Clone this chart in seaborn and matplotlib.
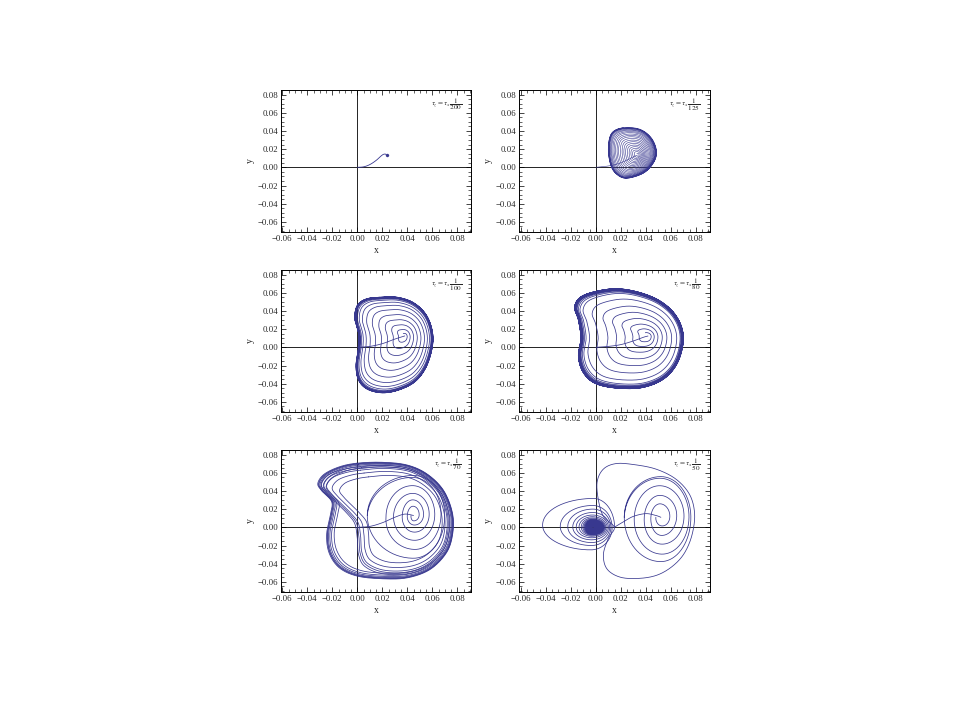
import numpy as np
import pandas as pd
import matplotlib
matplotlib.use("Agg")
import matplotlib.pyplot as plt
from matplotlib.ticker import MultipleLocator, FuncFormatter
import seaborn as sns

# ---------------- data ----------------
ratio_labels = ["200", "125", "100", "80", "70", "50"]

# panel 1 : tau_z = tau_x / 200
p1_path = [(0.0, 0.0), (0.005, 0.0005), (0.010, 0.003), (0.015, 0.0075),
           (0.020, 0.0135), (0.0225, 0.0145), (0.0235, 0.013)]
p1_end = [(0.0235, 0.013)]

# panel 2 : 1/125
p2_focus = (0.0334, 0.0135)
p2_shape = [(0.0219, 0.0435), (0.0353, 0.0418), (0.0446, 0.0319), (0.0486, 0.0171),
            (0.0459, 0.0044), (0.0379, -0.0066), (0.0246, -0.0121), (0.0166, -0.0077),
            (0.0118, 0.0025), (0.0099, 0.0209), (0.0126, 0.0374)]
p2_scales = [0.06, 0.12, 0.18, 0.24, 0.30, 0.36, 0.42, 0.48, 0.54, 0.60,
             0.66, 0.71, 0.76, 0.81, 0.85, 0.89, 0.92, 0.95, 0.97, 0.985, 1.0]
p2_path = [(0.0, 0.0), (0.010, 0.0015), (0.018, 0.004), (0.025, 0.008),
           (0.030, 0.0115), (0.0334, 0.0135)]

# panel 3 : 1/100
p3_focus = (0.038, 0.0125)
p3_shape = [(0.018, 0.055), (0.032, 0.055), (0.045, 0.049), (0.055, 0.036), (0.060, 0.018),
            (0.060, 0.000), (0.055, -0.022), (0.046, -0.038), (0.033, -0.047), (0.020, -0.050),
            (0.008, -0.046), (0.001, -0.036), (-0.001, -0.020), (0.001, 0.000), (0.001, 0.015),
            (-0.002, 0.032), (0.000, 0.046), (0.007, 0.053)]
p3_scales = [0.06, 0.16, 0.28, 0.41, 0.54, 0.67, 0.78, 0.86, 0.92, 0.95, 0.97, 0.98,
             0.99, 0.995, 1.0, 1.0]
p3_path = [(0.0, 0.0), (0.010, 0.001), (0.020, 0.004), (0.030, 0.009), (0.038, 0.0125)]

# panel 4 : 1/80
p4_focus = (0.0417, 0.0124)
p4_shape = [(0.011, 0.064), (0.030, 0.062), (0.050, 0.052), (0.064, 0.035), (0.070, 0.012),
            (0.066, -0.015), (0.055, -0.034), (0.038, -0.044), (0.018, -0.045), (0.000, -0.040),
            (-0.010, -0.028), (-0.014, -0.010), (-0.012, 0.010), (-0.014, 0.030),
            (-0.017, 0.045), (-0.010, 0.057)]
p4_scales = [0.07, 0.15, 0.25, 0.37, 0.50, 0.63, 0.78, 0.90, 0.93, 0.95, 0.965, 0.975,
             0.985, 0.99, 0.995, 1.0, 1.0, 1.0]
p4_path = [(0.0, 0.0), (0.010, 0.001), (0.020, 0.003), (0.030, 0.007), (0.038, 0.011),
           (0.0417, 0.0124)]

# panel 5 : 1/70
p5_focus = (0.045, 0.013)
p5_ovals = [(0.043, 0.048, 0.008, 0.019), (0.040, 0.051, 0.0044, 0.0245),
            (0.036, 0.055, -0.003, 0.032), (0.029, 0.060, -0.012, 0.039),
            (0.023, 0.064, -0.021, 0.048), (0.008, 0.070, -0.034, 0.057)]
p5_outer = [(0.000, 0.070), (0.020, 0.071), (0.040, 0.068), (0.056, 0.058), (0.069, 0.040),
            (0.076, 0.015), (0.076, -0.008), (0.071, -0.028), (0.058, -0.046), (0.040, -0.055),
            (0.020, -0.056), (0.000, -0.053), (-0.014, -0.044), (-0.022, -0.028),
            (-0.024, -0.008), (-0.021, 0.014), (-0.020, 0.028), (-0.028, 0.040),
            (-0.031, 0.048), (-0.026, 0.058), (-0.014, 0.066)]
p5_inner = [(0.000, 0.066), (0.020, 0.068), (0.040, 0.065), (0.055, 0.055), (0.067, 0.038),
            (0.073, 0.015), (0.073, -0.008), (0.068, -0.027), (0.056, -0.043), (0.040, -0.051),
            (0.020, -0.051), (0.006, -0.043), (0.001, -0.030), (0.000, -0.012),
            (-0.002, 0.004), (-0.008, 0.015), (-0.016, 0.026), (-0.024, 0.037),
            (-0.029, 0.047), (-0.024, 0.057), (-0.013, 0.063)]
p5_outer_scales = [0.92, 0.95, 0.97, 0.985, 0.995, 1.0, 1.008]
p5_inner_scales = [0.80, 0.88, 0.94, 0.97, 1.0]
p5_path = [(0.0, 0.0), (0.010, 0.001), (0.020, 0.005), (0.030, 0.011), (0.038, 0.0145),
           (0.045, 0.013)]

# panel 6 : 1/50
p6_left_center = (-0.003, 0.0)
p6_left_ovals = [(-0.053, 0.015, -0.030, 0.034), (-0.032, 0.013, -0.023, 0.025),
                 (-0.025, 0.012, -0.019, 0.021), (-0.020, 0.011, -0.016, 0.017),
                 (-0.017, 0.010, -0.013, 0.014), (-0.0145, 0.009, -0.011, 0.012),
                 (-0.0125, 0.008, -0.0095, 0.0105), (-0.0110, 0.0072, -0.0085, 0.0093),
                 (-0.0100, 0.0065, -0.0077, 0.0084), (-0.0092, 0.0059, -0.0070, 0.0076),
                 (-0.0085, 0.0053, -0.0064, 0.0069), (-0.0079, 0.0048, -0.0058, 0.0063),
                 (-0.0073, 0.0043, -0.0053, 0.0057), (-0.0068, 0.0038, -0.0048, 0.0052),
                 (-0.0063, 0.0034, -0.0043, 0.0047), (-0.0058, 0.0030, -0.0039, 0.0042),
                 (-0.0054, 0.0026, -0.0035, 0.0038), (-0.0050, 0.0022, -0.0031, 0.0034),
                 (-0.0046, 0.0018, -0.0027, 0.0030), (-0.0043, 0.0015, -0.0024, 0.0026),
                 (-0.0040, 0.0011, -0.0020, 0.0022), (-0.0037, 0.0008, -0.0016, 0.0018),
                 (-0.0035, 0.0005, -0.0012, 0.0014), (-0.0033, -0.0005, -0.0008, 0.0009)]
p6_right_focus = (0.052, 0.011)
p6_right_ovals = [(0.048, 0.057, 0.0044, 0.019), (0.044, 0.0613, -0.0066, 0.028),
                  (0.0387, 0.068, -0.0157, 0.0374), (0.0307, 0.073, -0.0267, 0.0484),
                  (0.0227, 0.076, -0.0377, 0.0557)]
p6_big = [(0.0147, 0.000), (0.006, 0.012), (0.002, 0.030), (0.001, 0.050), (0.006, 0.064),
          (0.016, 0.070), (0.030, 0.069), (0.048, 0.064), (0.064, 0.053), (0.075, 0.036),
          (0.079, 0.015), (0.077, -0.008), (0.071, -0.028), (0.062, -0.042), (0.050, -0.052),
          (0.036, -0.056), (0.020, -0.055), (0.009, -0.046), (0.006, -0.030), (0.010, -0.012)]
p6_path = [(0.0147, 0.0), (0.022, 0.006), (0.030, 0.012), (0.040, 0.015), (0.048, 0.013),
           (0.052, 0.011)]

# line widths per panel (style)
panel_lw = [0.6, 0.4, 0.55, 0.55, 0.55, 0.55]

# ---------------- curve helpers ----------------
def closed_spline(pts, n_per=24):
    P = np.asarray(pts, float)
    n = len(P)
    t = np.linspace(0, 1, n_per, endpoint=False)[:, None]
    out = []
    for i in range(n):
        p0, p1, p2, p3 = P[(i - 1) % n], P[i], P[(i + 1) % n], P[(i + 2) % n]
        out.append(0.5 * (2 * p1 + (-p0 + p2) * t + (2 * p0 - 5 * p1 + 4 * p2 - p3) * t ** 2
                          + (-p0 + 3 * p1 - 3 * p2 + p3) * t ** 3))
    return np.vstack(out)


def open_spline(pts, n_per=20):
    P = np.asarray(pts, float)
    P = np.vstack([P[0], P, P[-1]])
    t = np.linspace(0, 1, n_per, endpoint=False)[:, None]
    out = []
    for i in range(1, len(P) - 2):
        p0, p1, p2, p3 = P[i - 1], P[i], P[i + 1], P[i + 2]
        out.append(0.5 * (2 * p1 + (-p0 + p2) * t + (2 * p0 - 5 * p1 + 4 * p2 - p3) * t ** 2
                          + (-p0 + 3 * p1 - 3 * p2 + p3) * t ** 3))
    out.append(P[-1][None, :])
    return np.vstack(out)


def scaled_spiral(shape, focus, scales):
    C = closed_spline(shape)
    F = np.asarray(focus)
    M = len(C)
    t = np.arange(M) / M
    segs = []
    for k in range(len(scales) - 1):
        s = scales[k] + (scales[k + 1] - scales[k]) * t
        segs.append(F + s[:, None] * (C - F))
    segs.append(F + scales[-1] * (C - F))
    segs.append((F + scales[-1] * (C[0] - F))[None, :])
    return np.vstack(segs)


def scaled_loop(shape, focus, s):
    C = closed_spline(shape)
    F = np.asarray(focus)
    L = F + s * (C - F)
    return np.vstack([L, L[:1]])


def oval_spiral(ovals, center, theta0=0.0, n=220):
    cx, cy = center
    E = np.asarray(ovals, float)
    t = np.arange(n) / n
    segs = []
    for k in range(len(E) - 1):
        e = E[k][None, :] + (E[k + 1] - E[k])[None, :] * t[:, None]
        th = theta0 + 2 * np.pi * t
        segs.append((e, th))
    e = np.repeat(E[-1][None, :], n + 1, axis=0)
    th = theta0 + 2 * np.pi * np.arange(n + 1) / n
    segs.append((e, th))
    pts = []
    for e, th in segs:
        c, s = np.cos(th), np.sin(th)
        rx = np.where(c >= 0, e[:, 1] - cx, cx - e[:, 0])
        ry = np.where(s >= 0, e[:, 3] - cy, cy - e[:, 2])
        pts.append(np.column_stack([cx + rx * c, cy + ry * s]))
    return np.vstack(pts)


def to_df(curves):
    frames = []
    for i, c in enumerate(curves):
        frames.append(pd.DataFrame({"x": c[:, 0], "y": c[:, 1], "seg": i,
                                    "order": np.arange(len(c))}))
    return pd.concat(frames, ignore_index=True)


# ---------------- build curves per panel ----------------
panels = []
panels.append([open_spline(p1_path)])
panels.append([open_spline(p2_path), scaled_spiral(p2_shape, p2_focus, p2_scales)])
panels.append([open_spline(p3_path), scaled_spiral(p3_shape, p3_focus, p3_scales)])
panels.append([open_spline(p4_path), scaled_spiral(p4_shape, p4_focus, p4_scales)])
c5 = [open_spline(p5_path), oval_spiral(p5_ovals, p5_focus, theta0=np.pi)]
c5 += [scaled_loop(p5_outer, p5_focus, s) for s in p5_outer_scales]
c5 += [scaled_loop(p5_inner, p5_focus, s) for s in p5_inner_scales]
panels.append(c5)
c6 = [oval_spiral(p6_left_ovals, p6_left_center, theta0=0.0),
      open_spline(p6_path),
      oval_spiral(p6_right_ovals, p6_right_focus, theta0=np.pi),
      scaled_loop(p6_big, p6_right_focus, 1.0)]
panels.append(c6)

# ---------------- styling ----------------
sns.set_theme(style="white", rc={
    "xtick.direction": "in", "ytick.direction": "in",
    "xtick.top": True, "ytick.right": True,
    "xtick.bottom": True, "ytick.left": True,
    "axes.edgecolor": "black", "axes.linewidth": 0.7,
})
plt.rcParams["font.family"] = ["Liberation Serif", "DejaVu Serif"]
plt.rcParams["mathtext.fontset"] = "stix"

line_color = "#38388f"

fig = plt.figure(figsize=(9.6, 7.2), dpi=100)
lefts = [280.7 / 960, 519.3 / 960]
bottoms = [1 - 232 / 720, 1 - 412 / 720, 1 - 592 / 720]
w = 190.3 / 960
h = 142.5 / 720


def fmt(v, pos):
    s = f"{abs(v):.2f}"
    return ("\u2212" + s) if v < -1e-9 else s


for idx in range(6):
    r, c = divmod(idx, 2)
    ax = fig.add_axes([lefts[c], bottoms[r], w, h])
    ax.axhline(0, color="black", lw=0.6, zorder=1)
    ax.axvline(0, color="black", lw=0.6, zorder=1)
    df = to_df(panels[idx])
    sns.lineplot(data=df, x="x", y="y", units="seg", estimator=None, sort=False,
                 color=line_color, lw=panel_lw[idx], ax=ax, legend=False, zorder=2)
    if idx == 0:
        ed = pd.DataFrame(p1_end, columns=["x", "y"])
        sns.scatterplot(data=ed, x="x", y="y", s=5, color=line_color, edgecolor=line_color,
                        ax=ax, legend=False, zorder=3)
    ax.set_xlim(-0.0613, 0.091)
    ax.set_ylim(-0.0711, 0.0855)
    ax.xaxis.set_major_locator(MultipleLocator(0.02))
    ax.yaxis.set_major_locator(MultipleLocator(0.02))
    ax.xaxis.set_minor_locator(MultipleLocator(0.005))
    ax.yaxis.set_minor_locator(MultipleLocator(0.005))
    ax.xaxis.set_major_formatter(FuncFormatter(fmt))
    ax.yaxis.set_major_formatter(FuncFormatter(fmt))
    ax.tick_params(which="major", length=3.5, width=0.6, labelsize=6.3, pad=2,
                   direction="in", top=True, right=True)
    ax.tick_params(which="minor", length=2.0, width=0.5, direction="in",
                   top=True, right=True)
    ax.set_xlabel("x", fontsize=7, labelpad=2)
    ax.set_ylabel("y", fontsize=7, labelpad=2)
    for sp in ax.spines.values():
        sp.set_visible(True)
        sp.set_linewidth(0.7)
    ax.text(0.955, 0.895, r"$\tau_z = \tau_x\,\dfrac{1}{%s}$" % ratio_labels[idx],
            transform=ax.transAxes, ha="right", va="center", fontsize=5.2)

fig.savefig("out.png", dpi=100, facecolor="white")
